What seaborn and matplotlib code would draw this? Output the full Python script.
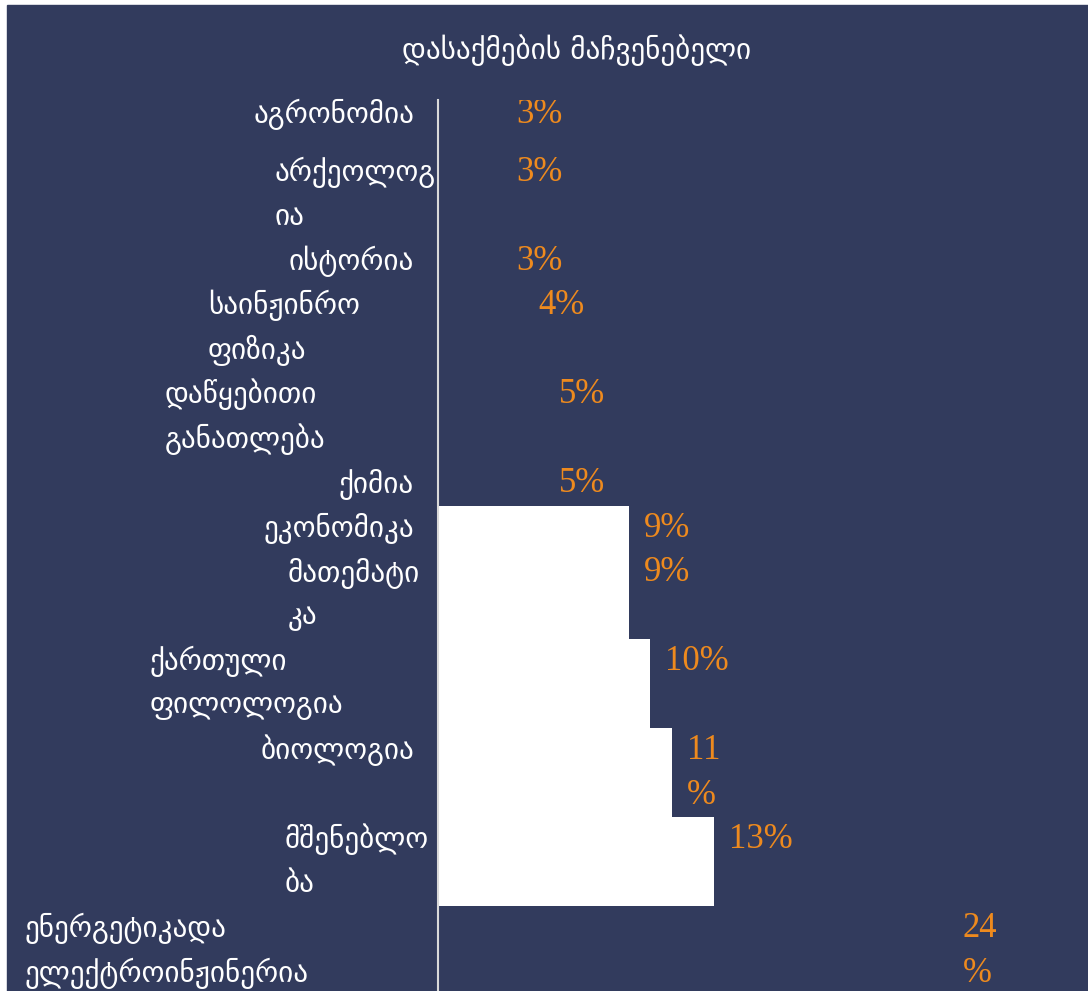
import matplotlib
matplotlib.use("Agg")
import matplotlib.pyplot as plt
import matplotlib.transforms as mtransforms
from matplotlib.patches import Rectangle
import numpy as np
import pandas as pd
import seaborn as sns

# ─────────────────────────────────────────────────────────────────────────────
# DATA
# ─────────────────────────────────────────────────────────────────────────────
title = "დასაქმების მაჩვენებელი"

categories = [
    "აგრონომია",
    "არქეოლოგ\nია",
    "ისტორია",
    "საინჟინრო\nფიზიკა",
    "დაწყებითი\nგანათლება",
    "ქიმია",
    "ეკონომიკა",
    "მათემატი\nკა",
    "ქართული\nფილოლოგია",
    "ბიოლოგია",
    "მშენებლო\nბა",
    "ენერგეტიკადა\nელექტროინჟინერია",
]
values = [3, 3, 3, 4, 5, 5, 9, 9, 10, 11, 13, 24]
value_labels = ["3%", "3%", "3%", "4%", "5%", "5%",
                "9%", "9%", "10%", "11\n%", "13%", "24\n%"]

# ─────────────────────────────────────────────────────────────────────────────
# STYLE / LAYOUT
# ─────────────────────────────────────────────────────────────────────────────
BG      = "#323B5D"
ORANGE  = "#EE8A1E"
SPINE   = "#D9D9D9"
bar_colors = [BG, BG, BG, BG, BG, BG,
              "white", "white", "white", "white", "white", BG]
# left edge (px) of wrapped label blocks; single-line labels are right aligned
label_left_px = [None, 275, None, 208, 165, None, None, 288, 150, None, 285, 25]

W, H = 1088, 991
AX_LEFT, AX_TOP = 438, 100
LINE_PX = 44.5
PX_PER_UNIT = 21.24          # px per percent
FIRST_LINE_PX = 149.75       # px of line-boundary 0
LABEL_SIZE = 21
VALUE_SIZE = 25

sns.set_theme(style="white")
plt.rcParams["font.family"] = ["DejaVu Sans"]

# rows: each row is as tall as its longest wrapped text
n_lines = [max(c.count("\n"), v.count("\n")) + 1 for c, v in zip(categories, value_labels)]
starts = np.concatenate([[0], np.cumsum(n_lines)[:-1]]) - 1.0
starts[0] = -1.3             # first row sits partly under the title area
centers = starts + np.array(n_lines) / 2

df = pd.DataFrame({"category": categories, "value": values, "center": centers})

fig = plt.figure(figsize=(W / 100, H / 100), dpi=100, facecolor="white")
fig.patches.append(Rectangle((7 / W, 0), 1 - 7 / W, 1 - 5 / H,
                             transform=fig.transFigure, color=BG, zorder=-10))

ax = fig.add_axes([AX_LEFT / W, 0, 1 - AX_LEFT / W, (H - AX_TOP) / H])
ax.set_facecolor(BG)

sns.barplot(
    data=df, x="value", y="center", hue="category", hue_order=categories,
    palette=dict(zip(categories, bar_colors)), orient="h", native_scale=True,
    dodge=False, errorbar=None, saturation=1, width=1, legend=False, ax=ax,
)

# stretch each bar to fill its (variable height) row
for p in ax.patches:
    c = p.get_y() + p.get_height() / 2
    i = int(np.argmin(np.abs(centers - c)))
    p.set_y(starts[i])
    p.set_height(n_lines[i])
    p.set_linewidth(0)

u_top = (AX_TOP - FIRST_LINE_PX) / LINE_PX
u_bot = (H - FIRST_LINE_PX) / LINE_PX
ax.set_ylim(u_bot, u_top)
ax.set_xlim(0, (W - AX_LEFT) / PX_PER_UNIT)

# category labels
trans = mtransforms.blended_transform_factory(fig.transFigure, ax.transData)
for i, cat in enumerate(categories):
    for k, line in enumerate(cat.split("\n")):
        y = starts[i] + k + 0.5
        if label_left_px[i] is None:
            ax.text(414 / W, y, line, transform=trans, ha="right", va="center",
                    color="white", fontsize=LABEL_SIZE, clip_on=False)
        else:
            ax.text(label_left_px[i] / W, y, line, transform=trans, ha="left",
                    va="center", color="white", fontsize=LABEL_SIZE, clip_on=False)

# value labels
for i, (v, lab) in enumerate(zip(values, value_labels)):
    for k, line in enumerate(lab.split("\n")):
        ax.text(v + 15 / PX_PER_UNIT, starts[i] + k + 0.5, line,
                ha="left", va="center", color=ORANGE, fontsize=VALUE_SIZE,
                family=["Liberation Serif", "DejaVu Serif"], clip_on=True)

fig.text(577 / W, 1 - 50 / H, title, ha="center", va="center",
         color="white", fontsize=LABEL_SIZE)

ax.set_xlabel(""); ax.set_ylabel("")
ax.set_xticks([]); ax.set_yticks([])
for s in ["top", "right", "bottom"]:
    ax.spines[s].set_visible(False)
ax.spines["left"].set_color(SPINE)
ax.spines["left"].set_linewidth(1.5)

fig.savefig("out.png", dpi=100, facecolor="white")
plt.close(fig)
